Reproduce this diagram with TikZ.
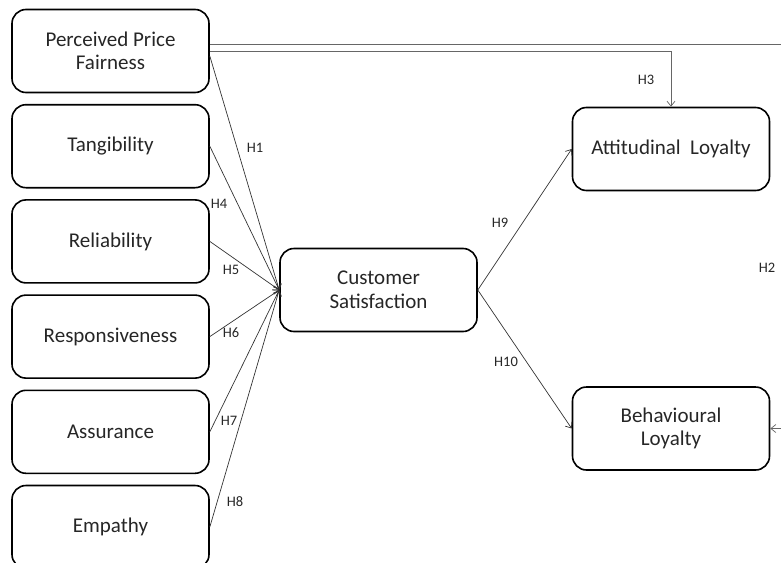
\documentclass[tikz,border=0pt]{standalone}
\usepackage{fontspec}
\setmainfont{Carlito}
\usetikzlibrary{positioning,arrows.meta}

\begin{document}
\begin{tikzpicture}[x=1pt,y=-1pt,
    construct/.style={draw,line width=1.6pt,rounded corners=14pt,
      minimum width=197pt,minimum height=83pt,align=center,
      font=\fontsize{21}{23.5}\selectfont,text=black!85},
    hyp/.style={font=\fontsize{14.5}{16}\selectfont,text=black!85},
    link/.style={-{Straight Barb[length=5pt,width=8pt]},draw=black!80,line width=0.7pt},
    node distance=10.6pt]
  \useasboundingbox (0,0) rectangle (781,562);

  % service quality and price constructs, stacked on the left
  \node[construct] (ppf) at (110.5,51) {Perceived Price\\Fairness};
  \node[construct,below=of ppf]  (tang) {Tangibility};
  \node[construct,below=of tang] (reli) {Reliability};
  \node[construct,below=of reli] (resp) {Responsiveness};
  \node[construct,below=of resp] (assu) {Assurance};
  \node[construct,below=of assu] (empa) {Empathy};

  % mediator and outcomes
  \node[construct] (cs) at (378.5,290)  {Customer\\Satisfaction};
  \node[construct] (al) at (671,149)    {Attitudinal~~Loyalty};
  \node[construct] (bl) at (671,428.5)  {Behavioural\\Loyalty};

  % paths into satisfaction
  \draw[link] ([yshift=-5pt]ppf.east) -- (cs.west);
  \foreach \src in {tang,reli,resp,assu,empa}
    \draw[link] (\src.east) -- (cs.west);

  % satisfaction to loyalty
  \draw[link] (cs.east) -- (al.west);
  \draw[link] (cs.east) -- (bl.west);

  % direct price paths (the outer one runs past the page edge)
  \draw[link,draw=black!60] (ppf.east) -| (al.north);
  \draw[link,draw=black!60] ([yshift=7pt]ppf.east) -| ([xshift=30pt]bl.east) -- (bl.east);

  % hypothesis labels
  \node[hyp] (h1)  at (255,148) {H1};
  \node[hyp] (h2)  at (767,268) {H2};
  \node[hyp] (h3)  at (646,80)  {H3};
  \node[hyp] (h4)  at (219,204) {H4};
  \node[hyp] (h5)  at (231,270) {H5};
  \node[hyp] (h6)  at (231,333) {H6};
  \node[hyp] (h7)  at (229,421) {H7};
  \node[hyp] (h8)  at (235,502) {H8};
  \node[hyp] (h9)  at (500,223) {H9};
  \node[hyp] (h10) at (506,362) {H10};
\end{tikzpicture}
\end{document}
